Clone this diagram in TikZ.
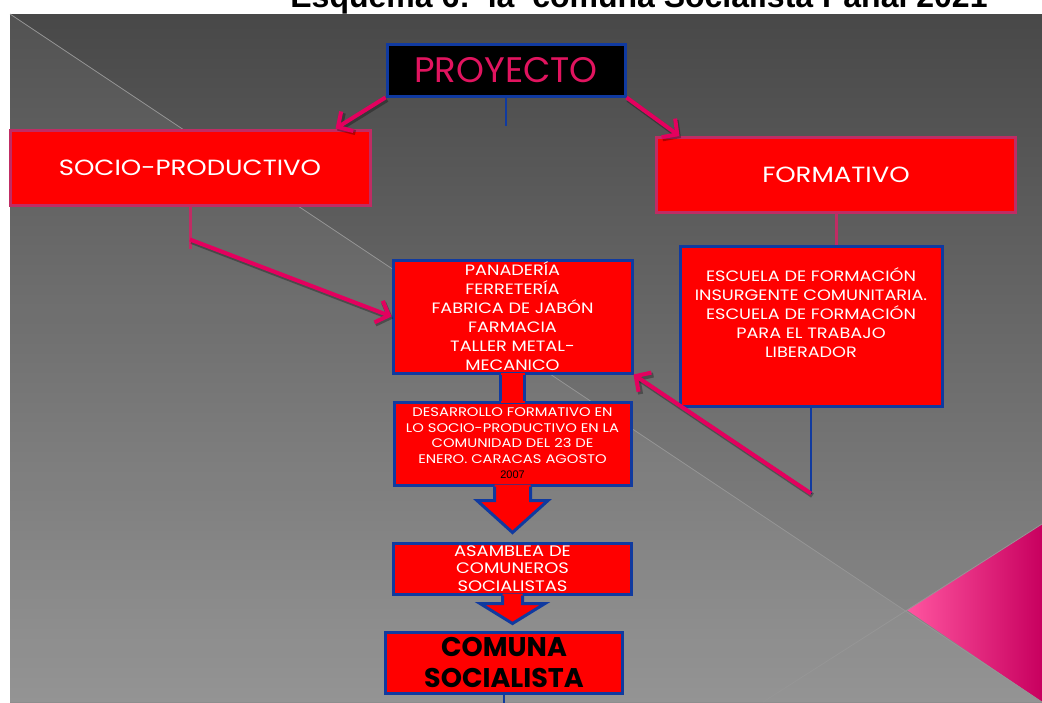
\documentclass[tikz,border=0pt]{standalone}
\usepackage{fontspec}
\setmainfont{Poppins}
\newfontfamily\widefont[FakeStretch=1.18]{Poppins}
\newfontfamily\titlefont{Liberation Sans}
\usetikzlibrary{positioning, calc, arrows.meta}

\definecolor{boxred}{RGB}{255,0,0}
\definecolor{edgeblue}{RGB}{16,58,160}
\definecolor{arrowpink}{RGB}{228,0,94}
\definecolor{edgepink}{RGB}{192,44,100}
\definecolor{wordpink}{RGB}{225,20,95}
\definecolor{slidetop}{RGB}{72,72,72}
\definecolor{slidebottom}{RGB}{142,142,142}
\definecolor{streak}{RGB}{150,150,150}
\definecolor{cornerlight}{RGB}{255,85,160}
\definecolor{cornermid}{RGB}{240,0,122}
\definecolor{cornerdark}{RGB}{200,0,95}

\begin{document}
\begin{tikzpicture}[
  x=1pt, y=-1pt,
  box/.style={rectangle, draw=edgeblue, line width=3pt, fill=boxred, text=white, align=center, inner sep=0pt},
  pinkbox/.style={box, draw=edgepink},
  arrow/.style={-{Straight Barb[length=11pt, width=23pt]}, draw=arrowpink, line width=4pt,
    preaction={draw=black, opacity=0.3, line width=5pt, transform canvas={shift={(1.5pt,-2pt)}}}},
  blueline/.style={draw=edgeblue, line width=2.2pt},
  pinkline/.style={draw=edgepink, line width=3pt},
  blockfill/.style={fill=boxred},
  blockedge/.style={draw=edgeblue, line width=3pt}
]
\useasboundingbox (0,0) rectangle (1042,702);
\clip (0,0) rectangle (1042,702);

%--------------------------------------
% Slide background
%--------------------------------------
\fill[white] (0,0) rectangle (1042,702);
\shade[top color=slidetop, bottom color=slidebottom] (10,14) rectangle (1042,702);
\fill[white, opacity=0.06] (10,14) -- (1042,702) -- (10,702) -- cycle;
\shade[left color=cornerlight, middle color=cornermid, right color=cornerdark] (907,610) -- (1042,524) -- (1042,702) -- cycle;
\draw[streak, line width=0.8pt] (10,14) -- (1042,702);
\draw[streak, line width=0.8pt] (763,702) -- (1042,524);

% Title (cut by the slide edge)
\node[anchor=base, font=\titlefont\bfseries\fontsize{32}{36}\selectfont] (title) at (639,7.5) {Esquema 6:\ \ la\ \ comuna Socialista Panal 2021};

%--------------------------------------
% Boxes
%--------------------------------------
\node[box, fill=black, text=wordpink, minimum width=238pt, minimum height=52pt, font=\fontsize{35.5}{40}\selectfont] (proy) at (506,70) {PROYECTO};
\node[pinkbox, minimum width=360pt, minimum height=75pt, font=\widefont\fontsize{22}{26}\selectfont] (socio) at (190,167.5) {SOCIO-PRODUCTIVO};
\node[pinkbox, minimum width=359pt, minimum height=75pt, font=\widefont\fontsize{22}{26}\selectfont] (form) at (836,175) {FORMATIVO};
\node[box, minimum width=262pt, minimum height=160pt, font=\widefont\fontsize{15}{19}\selectfont] (esc) at (811,326) {ESCUELA DE FORMACIÓN\\INSURGENTE COMUNITARIA.\\ESCUELA DE FORMACIÓN\\PARA EL TRABAJO\\LIBERADOR\\[7pt]~};
\node[box, minimum width=239pt, minimum height=113pt, font=\widefont\fontsize{15}{19}\selectfont] (pan) at (512.5,316.5) {PANADERÍA\\FERRETERÍA\\FABRICA DE JABÓN\\FARMACIA\\TALLER METAL-\\MECANICO};
\node[box, below=26pt of pan, minimum width=237pt, minimum height=83pt, font=\widefont\fontsize{12.5}{15.5}\selectfont] (des) {DESARROLLO FORMATIVO EN\\LO SOCIO-PRODUCTIVO EN LA\\COMUNIDAD DEL 23 DE\\ENERO. CARACAS AGOSTO\\{\titlefont\color{black}\fontsize{11}{13}\selectfont 2007}};
\node[box, below=55pt of des, minimum width=238pt, minimum height=51pt, font=\widefont\fontsize{15.2}{17.5}\selectfont] (asam) {ASAMBLEA DE\\COMUNEROS\\SOCIALISTAS};
\node[box, below=35pt of asam, xshift=-8.5pt, minimum width=237pt, minimum height=61pt, text=black, font=\bfseries\fontsize{27}{31}\selectfont] (comuna) {COMUNA\\SOCIALISTA};

%--------------------------------------
% Block arrows down the middle
%--------------------------------------
\fill[blockfill] ($(pan.south)+(-12,-2)$) rectangle ($(des.north)+(12,2)$);
\draw[blockedge] ($(pan.south)+(-12,0)$) -- ($(des.north)+(-12,0)$) ($(pan.south)+(12,0)$) -- ($(des.north)+(12,0)$);

\begin{scope}[shift={(des.south)}]
  \fill[blockfill] (-18,-2) -- (-18,14) -- (-35.5,14) -- (0,46) -- (35.5,14) -- (18,14) -- (18,-2) -- cycle;
  \draw[blockedge] (-18,0) -- (-18,14) -- (-35.5,14) -- (0,46) -- (35.5,14) -- (18,14) -- (18,0);
\end{scope}

\begin{scope}[shift={(asam.south)}]
  \fill[blockfill] (-10,-2) -- (-10,8) -- (-32.5,8) -- (0,28) -- (32.5,8) -- (10,8) -- (10,-2) -- cycle;
  \draw[blockedge] (-10,0) -- (-10,8) -- (-32.5,8) -- (0,28) -- (32.5,8) -- (10,8) -- (10,0);
\end{scope}

%--------------------------------------
% Lines and arrows
%--------------------------------------
\coordinate (sociobend) at ($(socio.south)+(0,33)$);
\coordinate (socioend) at ($(socio.south)+(0,42)$);
\coordinate (escend) at ($(esc.south)+(0,86)$);

\draw[blueline] (proy.south) -- ++(0,28);
\draw[arrow] (proy.south west) -- (socio.15);
\draw[arrow] (proy.south east) -- (form.166);

\draw[pinkline] (socio.south) -- (socioend);
\draw[arrow] (sociobend) -- (pan.west);

\draw[pinkline] (form.south) -- (form.south |- esc.north);
\draw[blueline] (esc.south) -- (escend);
\draw[arrow] (escend) -- (pan.south east);

\draw[blueline] (comuna.south) -- ++(0,20);

\end{tikzpicture}
\end{document}
